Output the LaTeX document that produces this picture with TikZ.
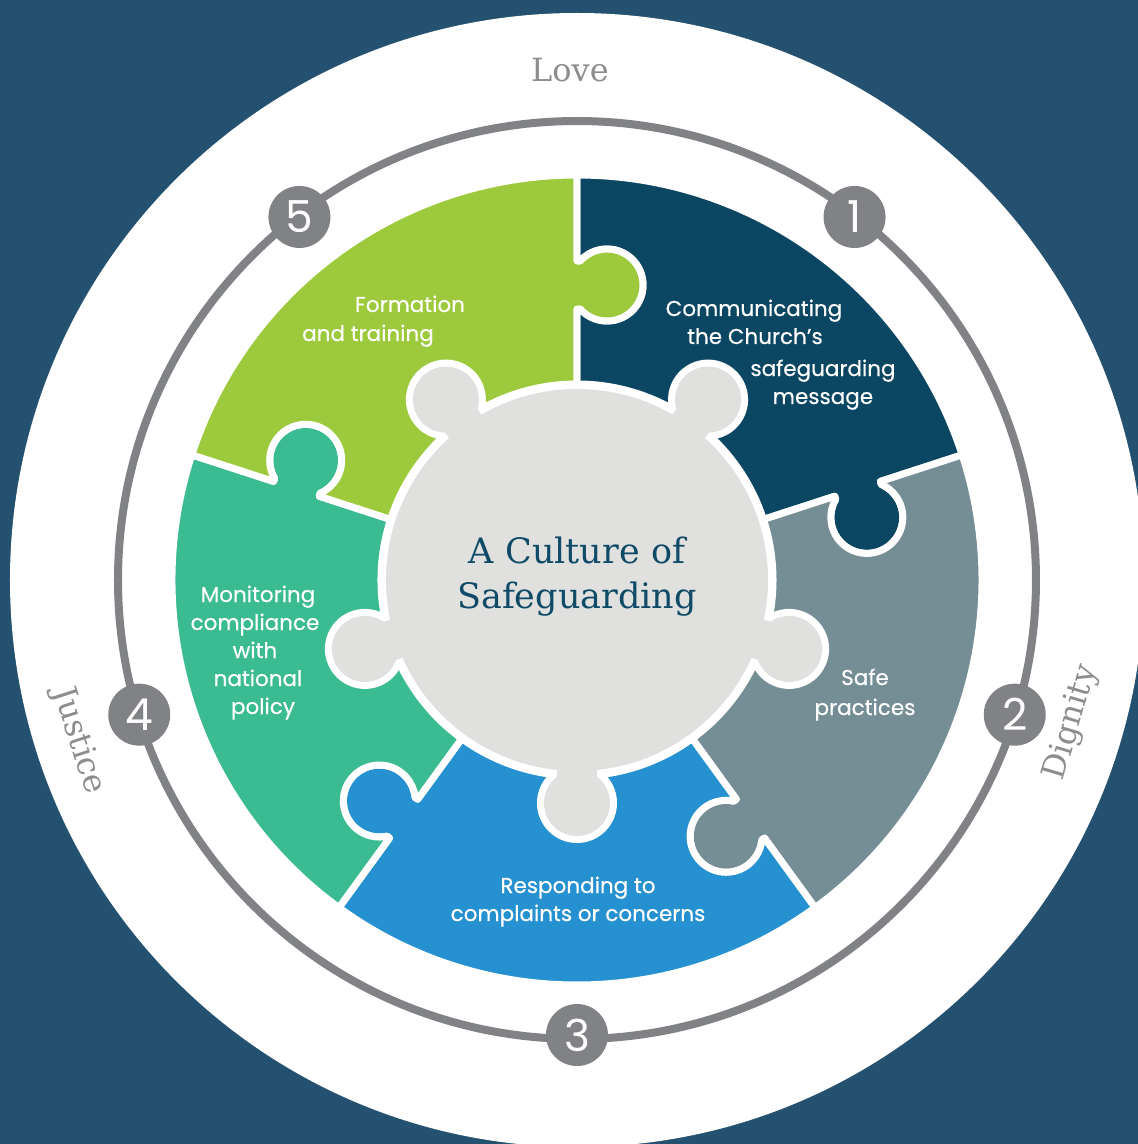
\documentclass[tikz,border=0pt]{standalone}
\usepackage{fontspec}
\setmainfont{Poppins}
\newfontfamily\wordface{Poppins}[FakeBold=0.4]
\newfontfamily\serifface{DejaVu Serif}

\definecolor{bgblue}{HTML}{24516F}
\definecolor{ringgray}{HTML}{808285}
\definecolor{wordgray}{HTML}{8B8D8F}
\definecolor{hubgray}{HTML}{E0E0DF}
\definecolor{titlenavy}{HTML}{0F4A66}
\definecolor{piecenavy}{HTML}{0B4763}
\definecolor{pieceslate}{HTML}{758E95}
\definecolor{pieceblue}{HTML}{2591D0}
\definecolor{pieceteal}{HTML}{3BBB91}
\definecolor{piecelime}{HTML}{9DCA3C}

% one piece of the ring, centred on angle 0 (knob on the lower edge, hole in the upper one)
\newcommand{\puzzlepiece}{(-36:196) -- (-36:271) -- (-36.67:271.02)
  arc[start angle=95.81, end angle=372.19, radius=36] -- (-36:319) -- (-36:405)
  arc[start angle=-36, end angle=36, radius=405] -- (36:319) -- (35.43:319.02)
  arc[start angle=84.19, end angle=-192.19, radius=36] -- (36:271) -- (36:196)
  arc[start angle=36, end angle=-36, radius=196] -- cycle}

\begin{document}
\begin{tikzpicture}[x=1pt, y=1pt,
	piece/.style={draw=white, line width=7pt, line join=round},
	hubrim/.style={draw=white, line width=14pt},
	words/.style={text=white, anchor=base, inner sep=0pt, font=\wordface\fontsize{21.5}{25}\selectfont},
	virtue/.style={text=wordgray, inner sep=0pt, font=\serifface\fontsize{32}{36}\selectfont},
	numdot/.style={circle, fill=ringgray, minimum size=62pt, inner sep=0pt, text=white, font=\fontsize{44}{44}\selectfont}]
	\useasboundingbox (-577,-564) rectangle (561,580);
	\fill[bgblue] (-577,-564) rectangle (561,580);
	\fill[white] (0,0) circle[radius=567];
	\draw[ringgray, line width=8pt] (0,0) circle[radius=459];
	
	% the five pieces
	\filldraw[piece, fill=piecenavy, rotate=54] \puzzlepiece;
	\filldraw[piece, fill=pieceslate, rotate=-18] \puzzlepiece;
	\filldraw[piece, fill=pieceblue, rotate=-90] \puzzlepiece;
	\filldraw[piece, fill=pieceteal, rotate=-162] \puzzlepiece;
	\filldraw[piece, fill=piecelime, rotate=126] \puzzlepiece;
	
	% the hub with its five knobs
	\foreach \a in {54,-18,-90,-162,126}
		\draw[hubrim, rotate=\a] (180,-20) rectangle (223,20) (223,0) circle[radius=33];
	\draw[hubrim] (0,0) circle[radius=191];
	\foreach \a in {54,-18,-90,-162,126} {
		\fill[hubgray, rotate=\a] (180,-20) rectangle (223,20);
		\fill[hubgray, rotate=\a] (223,0) circle[radius=33];
	}
	\fill[hubgray] (0,0) circle[radius=191];
	
	\node[anchor=base, text=titlenavy, font=\serifface\fontsize{35}{40}\selectfont] (title1) at (0,17) {A Culture of};
	\node[anchor=base, text=titlenavy, font=\serifface\fontsize{35}{40}\selectfont] (title2) at (0,-28) {Safeguarding};
	
	\node[words] (comm1) at (177,264) {Communicating};
	\node[words] (comm2) at (178,236) {the Church’s};
	\node[words] (comm3) at (246,204) {safeguarding};
	\node[words] (comm4) at (246,176) {message};
	
	\node[words] (safe1) at (288,-105) {Safe};
	\node[words] (safe2) at (288,-135) {practices};
	
	\node[words] (resp1) at (1,-313) {Responding to};
	\node[words] (resp2) at (1,-341) {complaints or concerns};
	
	\node[words] (mon1) at (-319,-22) {Monitoring};
	\node[words] (mon2) at (-322,-50) {compliance};
	\node[words] (mon3) at (-322,-78) {with};
	\node[words] (mon4) at (-319,-106) {national};
	\node[words] (mon5) at (-314,-134) {policy};
	
	\node[words] (form1) at (-167,268) {Formation};
	\node[words] (form2) at (-209,239) {and training};
	
	\node[virtue, anchor=base] (love) at (-7,498) {Love};
	\node[virtue, rotate=73.6] (dignity) at (-16.1:515) {Dignity};
	\node[virtue, rotate=-72.1] (justice) at (197.9:524) {Justice};
	
	\node[numdot] (n1) at (52.6:457) {1};
	\node[numdot] (n2) at (-17.1:458) {2};
	\node[numdot] (n3) at (-90:455) {3};
	\node[numdot] (n4) at (197.1:458) {4};
	\node[numdot] (n5) at (127.4:457) {5};
\end{tikzpicture}
\end{document}
